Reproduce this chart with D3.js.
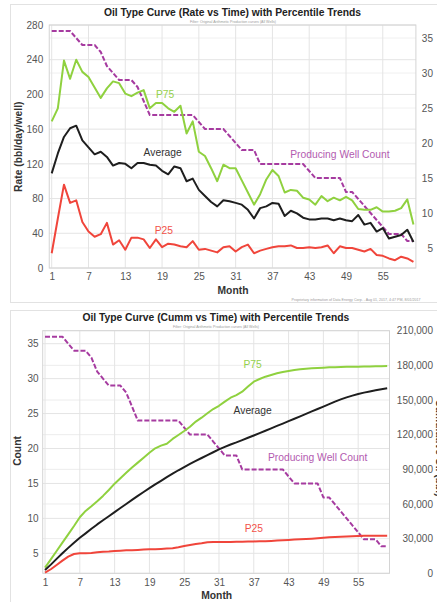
<!DOCTYPE html>
<html lang="en">
<head>
<meta charset="UTF-8">
<title>Oil Type Curves</title>
<script src="https://d3js.org/d3.v7.min.js"></script>
<style>
  body { margin: 0; background: #fff; font-family: Arial, "Liberation Sans", sans-serif; }
  svg { display: block; }
  .tick text { font-size: 10px; fill: #555; font-family: Arial, "Liberation Sans", sans-serif; }
  .title { font-size: 10.3px; font-weight: bold; fill: #222; }
  .axis-title { font-size: 10.3px; font-weight: bold; fill: #333; }
  .series-label { font-size: 10.3px; }
  .tiny { font-size: 3.6px; fill: #9a9a9a; }
</style>
</head>
<body>
<div id="chart"></div>
<script>
// ---- data ----
const months = d3.range(1, 61);
const monthTicks = [1, 7, 13, 19, 25, 31, 37, 43, 49, 55];
const rateTicks = [0, 40, 80, 120, 160, 200, 240, 280];
const countTicks = [5, 10, 15, 20, 25, 30, 35];
const cumTicks = [0, 30000, 60000, 90000, 120000, 150000, 180000, 210000];

// bbl/day/well
const p75Rate = [169, 184, 239, 218, 240, 226, 220, 208, 196, 207, 215, 213, 201, 198, 202, 205, 184, 190, 190, 184,
                 180, 187, 155, 169, 134, 129, 115, 100, 119, 115, 115, 101, 87, 73, 85, 102, 113, 106, 87, 90,
                 89, 81, 79, 73, 83, 77, 81, 78, 82, 78, 68, 67, 67, 70, 65, 65, 66, 69, 79, 50];
const avgRate = [109, 132, 151, 161, 164, 147, 139, 131, 134, 128, 118, 121, 120, 115, 121, 121, 119, 118, 112, 108,
                 117, 115, 100, 103, 90, 83, 76, 71, 78, 77, 75, 73, 67, 57, 69, 71, 75, 74, 60, 66,
                 63, 58, 56, 56, 57, 57, 55, 57, 55, 54, 61, 50, 52, 42, 46, 34, 36, 38, 44, 30];
const p25Rate = [17, 57, 96, 75, 78, 53, 42, 36, 39, 52, 27, 32, 21, 35, 35, 33, 23, 33, 24, 28,
                 27, 25, 24, 31, 21, 22, 20, 18, 24, 25, 19, 24, 27, 17, 20, 22, 24, 25, 25, 26,
                 23, 23, 24, 23, 24, 26, 17, 25, 23, 23, 21, 19, 22, 15, 14, 11, 9, 13, 11, 7];
const wellCount = [36, 36, 36, 36, 35, 34, 34, 34, 33, 31, 30, 29, 29, 29, 28, 26, 24, 24, 24, 24,
                   24, 24, 24, 24, 23, 22, 22, 22, 22, 21, 20, 19, 19, 19, 17, 17, 17, 17, 17, 17,
                   17, 17, 16, 15, 15, 15, 15, 15, 13, 13, 12, 11, 10, 9, 8, 7, 7, 7, 6, 6];

// cumulative bbl/well
const p75Cum = [4900, 12100, 19300, 26500, 33700, 40900, 48500, 54000, 58000, 62300,
                67000, 72100, 77600, 82300, 87000, 91500, 95800, 100100, 104400, 108200,
                110500, 112200, 116300, 119700, 123200, 126900, 131300, 134700, 138500, 142200,
                145000, 148600, 152000, 154300, 157200, 161600, 165900, 168200, 170200, 171700,
                173100, 174300, 175100, 176000, 176600, 177100, 177400, 177700, 178000, 178300,
                178400, 178600, 178700, 178800, 178900, 179000, 179100, 179200, 179300, 179400];
const avgCum = [2900, 7500, 12500, 17300, 22000, 26500, 30800, 34600, 38500, 42300,
                45900, 49400, 53000, 56500, 60000, 63500, 67000, 70400, 73700, 76900,
                80000, 83200, 86200, 89200, 92000, 94700, 97300, 99800, 102300, 104800,
                107200, 109400, 111500, 113300, 115300, 117300, 119300, 121400, 123400, 125500,
                127600, 129600, 131700, 133800, 135900, 138000, 140100, 142200, 144300, 146400,
                148600, 150500, 152300, 153800, 155200, 156400, 157400, 158400, 159400, 160200];
const p25Cum = [600, 3500, 7200, 11000, 14400, 16700, 17300, 17400, 17600, 18200,
                18700, 18800, 19300, 19600, 19900, 20000, 20200, 20500, 20800, 20900,
                21100, 21400, 21600, 22500, 23600, 24500, 25400, 26000, 26800, 27100,
                27100, 27100, 27200, 27300, 27400, 27500, 27600, 27700, 27800, 28000,
                28300, 28600, 28900, 29200, 29400, 29700, 30000, 30400, 30800, 31200,
                31500, 31700, 31900, 32100, 32300, 32400, 32500, 32500, 32600, 32600];

const GREEN = "#8fd13f", BLACK = "#1e1e1e", RED = "#f0453b", PURPLE = "#a63ba0";

const svg = d3.select("#chart").append("svg")
    .attr("width", 437)
    .attr("height", 602);

// panel frames
svg.append("rect").attr("x", 10.5).attr("y", 4.5).attr("width", 440).attr("height", 298)
    .attr("fill", "#fff").attr("stroke", "#e2e2e2");
svg.append("rect").attr("x", 10.5).attr("y", 310.5).attr("width", 440).attr("height", 300)
    .attr("fill", "#fff").attr("stroke", "#e2e2e2");

function drawGrid(g, x, yScales, plot) {
    yScales.forEach(([y, ticks, color]) => {
        g.append("g").selectAll("line").data(ticks).join("line")
            .attr("x1", plot.left).attr("x2", plot.right)
            .attr("y1", d => y(d)).attr("y2", d => y(d))
            .attr("stroke", color);
    });
    g.append("g").selectAll("line").data(monthTicks).join("line")
        .attr("x1", d => x(d)).attr("x2", d => x(d))
        .attr("y1", plot.top).attr("y2", plot.bottom)
        .attr("stroke", "#e4e4e4");
    g.append("rect")
        .attr("x", plot.left).attr("y", plot.top)
        .attr("width", plot.right - plot.left).attr("height", plot.bottom - plot.top)
        .attr("fill", "none").attr("stroke", "#d4d4d4");
}

function drawSeries(g, x, y, values, color, dashed) {
    g.append("path")
        .datum(values)
        .attr("fill", "none")
        .attr("stroke", color)
        .attr("stroke-width", 2)
        .attr("stroke-linejoin", "round")
        .attr("stroke-dasharray", dashed ? "5,2" : null)
        .attr("d", d3.line().x((d, i) => x(months[i])).y(d => y(d)));
}

function label(g, x, y, text, color) {
    g.append("text").attr("class", "series-label")
        .attr("x", x).attr("y", y).attr("dy", "0.35em")
        .attr("text-anchor", "middle").attr("fill", color)
        .text(text);
}

function styleAxis(g) {
    g.select(".domain").remove();
    g.selectAll(".tick line").remove();
}

// ================= top chart: rate vs time =================
const topPlot = { left: 49.25, right: 415.9, top: 25, bottom: 268 };
const xTop = d3.scaleLinear().domain([0.6, 60.4]).range([topPlot.left, topPlot.right]);
const yRate = d3.scaleLinear().domain([0, 280]).range([topPlot.bottom, topPlot.top]);
const yCountTop = d3.scaleLinear().domain([2.14, 36.86]).range([topPlot.bottom, topPlot.top]);

const g1 = svg.append("g");
drawGrid(g1, xTop, [[yCountTop, countTicks, "#f0f0f0"], [yRate, rateTicks, "#e4e4e4"]], topPlot);

g1.append("g").attr("transform", `translate(${topPlot.left},0)`)
    .call(d3.axisLeft(yRate).tickValues(rateTicks).tickSize(0).tickPadding(6))
    .call(styleAxis);
g1.append("g").attr("transform", `translate(${topPlot.right},0)`)
    .call(d3.axisRight(yCountTop).tickValues(countTicks).tickSize(0))
    .call(styleAxis)
    .call(g => g.selectAll("text").attr("x", 17.1).attr("text-anchor", "end"));
g1.append("g").attr("transform", `translate(0,${topPlot.bottom})`)
    .call(d3.axisBottom(xTop).tickValues(monthTicks).tickSize(0).tickPadding(5.2))
    .call(styleAxis);

drawSeries(g1, xTop, yCountTop, wellCount, PURPLE, true);
drawSeries(g1, xTop, yRate, p75Rate, GREEN);
drawSeries(g1, xTop, yRate, avgRate, BLACK);
drawSeries(g1, xTop, yRate, p25Rate, RED);

label(g1, xTop(19.5), yRate(200), "P75", "#95d14c");
label(g1, xTop(19.1), yRate(133), "Average", "#333");
label(g1, xTop(19.3), yRate(43), "P25", "#f2524a");
label(g1, xTop(48), yCountTop(18.4), "Producing Well Count", "#b35bb0");

g1.append("text").attr("class", "title")
    .attr("x", 232.5).attr("y", 16).attr("text-anchor", "middle")
    .text("Oil Type Curve (Rate vs Time) with Percentile Trends");
g1.append("text").attr("class", "tiny")
    .attr("x", 233).attr("y", 23).attr("text-anchor", "middle")
    .text("Filter: Original Arithmetic Production curves (All Wells)");
g1.append("text").attr("class", "axis-title")
    .attr("transform", "translate(22,146.7) rotate(-90)")
    .attr("text-anchor", "middle")
    .text("Rate (bbl/day/well)");
g1.append("text").attr("class", "axis-title")
    .attr("x", 233).attr("y", 293.8).attr("text-anchor", "middle")
    .text("Month");
g1.append("text").attr("class", "tiny")
    .attr("x", 356).attr("y", 301).attr("text-anchor", "middle")
    .text("Proprietary information of Data Energy Corp. - Aug 01, 2017, 4:47 PM, 8/01/2017");

// ================= bottom chart: cumulative vs time =================
const botPlot = { left: 42.7, right: 389.5, top: 330.7, bottom: 573.3 };
const xBot = d3.scaleLinear().domain([0.6, 60.4]).range([botPlot.left, botPlot.right]);
const yCountBot = d3.scaleLinear().domain([2.14, 36.86]).range([botPlot.bottom, botPlot.top]);
const yCum = d3.scaleLinear().domain([0, 210000]).range([botPlot.bottom, botPlot.top]);

const g2 = svg.append("g");
drawGrid(g2, xBot, [[yCum, cumTicks, "#ececec"], [yCountBot, countTicks, "#e4e4e4"]], botPlot);

g2.append("g").attr("transform", `translate(${botPlot.left},0)`)
    .call(d3.axisLeft(yCountBot).tickValues(countTicks).tickSize(0).tickPadding(4.2))
    .call(styleAxis);
g2.append("g").attr("transform", `translate(${botPlot.right},0)`)
    .call(d3.axisRight(yCum).tickValues(cumTicks).tickSize(0).tickFormat(d3.format(",")))
    .call(styleAxis)
    .call(g => g.selectAll("text").attr("x", 43.5).attr("text-anchor", "end"));
g2.append("g").attr("transform", `translate(0,${botPlot.bottom})`)
    .call(d3.axisBottom(xBot).tickValues(monthTicks).tickSize(0).tickPadding(5.9))
    .call(styleAxis);

drawSeries(g2, xBot, yCountBot, wellCount, PURPLE, true);
drawSeries(g2, xBot, yCum, p75Cum, GREEN);
drawSeries(g2, xBot, yCum, avgCum, BLACK);
drawSeries(g2, xBot, yCum, p25Cum, RED);

label(g2, xBot(36.8), yCum(180900), "P75", "#95d14c");
label(g2, xBot(36.8), yCum(141400), "Average", "#333");
label(g2, xBot(48), yCountBot(18.7), "Producing Well Count", "#b35bb0");
label(g2, xBot(37), yCum(39000), "P25", "#f2524a");

g2.append("text").attr("class", "title")
    .attr("x", 215.8).attr("y", 320.5).attr("text-anchor", "middle")
    .text("Oil Type Curve (Cumm vs Time) with Percentile Trends");
g2.append("text").attr("class", "tiny")
    .attr("x", 216).attr("y", 328).attr("text-anchor", "middle")
    .text("Filter: Original Arithmetic Production curves (All Wells)");
g2.append("text").attr("class", "axis-title")
    .attr("transform", "translate(21,451) rotate(-90)")
    .attr("text-anchor", "middle")
    .text("Count");
g2.append("text").attr("class", "axis-title")
    .attr("x", 216.7).attr("y", 598.8).attr("text-anchor", "middle")
    .text("Month");
// right-axis title: only a sliver falls inside the frame, as in the screenshot
g2.append("text").attr("class", "axis-title")
    .attr("transform", "translate(435.5,448) rotate(90)")
    .attr("text-anchor", "middle")
    .text("Cumulative Oil (bbl)");
</script>
</body>
</html>
